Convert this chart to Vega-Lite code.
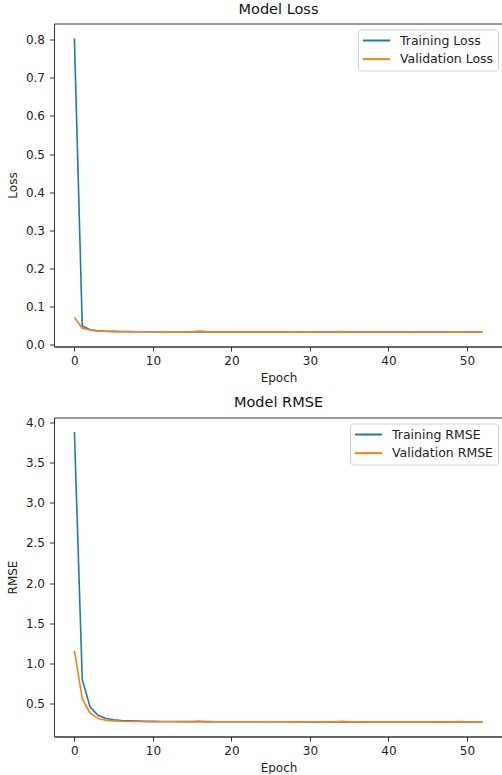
{
  "$schema": "https://vega.github.io/schema/vega-lite/v6.json",
  "background": "white",
  "padding": {"left": 5, "top": 1.5, "right": 0, "bottom": 0},
  "spacing": 10,
  "config": {
    "font": "DejaVu Sans",
    "view": {"stroke": "#333333", "strokeWidth": 1},
    "axis": {
      "grid": false,
      "domainColor": "#333333",
      "tickColor": "#333333",
      "tickSize": 4.5,
      "labelFontSize": 12,
      "labelColor": "#222222",
      "labelFont": "DejaVu Sans",
      "titleFont": "DejaVu Sans",
      "titleFontSize": 12,
      "titleFontWeight": "normal",
      "titleColor": "#222222",
      "labelPadding": 4
    },
    "axisX": {"titlePadding": 6},
    "axisY": {"titlePadding": 6, "labelPadding": 5},
    "title": {"font": "DejaVu Sans", "fontSize": 14.5, "fontWeight": "normal", "color": "#111111", "offset": 6},
    "legend": {
      "orient": "top-right",
      "offset": 5.5,
      "title": null,
      "symbolType": "M-2.25,0H2.25",
      "symbolSize": 144,
      "symbolOffset": 7.5,
      "symbolStrokeWidth": 2,
      "labelFontSize": 12.5,
      "labelFont": "DejaVu Sans",
      "labelColor": "#222222",
      "padding": 4,
      "rowPadding": 4.6,
      "labelOffset": 16.5,
      "strokeColor": "#d0d0d0",
      "fillColor": "white",
      "cornerRadius": 3
    }
  },
  "datasets": {
    "loss": [
      {"epoch": 0, "Training Loss": 0.803, "Validation Loss": 0.072},
      {"epoch": 1, "Training Loss": 0.050, "Validation Loss": 0.044},
      {"epoch": 2, "Training Loss": 0.040, "Validation Loss": 0.039},
      {"epoch": 3, "Training Loss": 0.037, "Validation Loss": 0.0365},
      {"epoch": 4, "Training Loss": 0.036, "Validation Loss": 0.0355},
      {"epoch": 5, "Training Loss": 0.0355, "Validation Loss": 0.035},
      {"epoch": 6, "Training Loss": 0.0352, "Validation Loss": 0.0348},
      {"epoch": 7, "Training Loss": 0.035, "Validation Loss": 0.0347},
      {"epoch": 8, "Training Loss": 0.0348, "Validation Loss": 0.0346},
      {"epoch": 9, "Training Loss": 0.0347, "Validation Loss": 0.0345},
      {"epoch": 10, "Training Loss": 0.0346, "Validation Loss": 0.0345},
      {"epoch": 11, "Training Loss": 0.0345, "Validation Loss": 0.0344},
      {"epoch": 12, "Training Loss": 0.0345, "Validation Loss": 0.0344},
      {"epoch": 13, "Training Loss": 0.0344, "Validation Loss": 0.0344},
      {"epoch": 14, "Training Loss": 0.0344, "Validation Loss": 0.0343},
      {"epoch": 15, "Training Loss": 0.0344, "Validation Loss": 0.0346},
      {"epoch": 16, "Training Loss": 0.0343, "Validation Loss": 0.0362},
      {"epoch": 17, "Training Loss": 0.0343, "Validation Loss": 0.0347},
      {"epoch": 18, "Training Loss": 0.0343, "Validation Loss": 0.0344},
      {"epoch": 19, "Training Loss": 0.0342, "Validation Loss": 0.0343},
      {"epoch": 20, "Training Loss": 0.0342, "Validation Loss": 0.0344},
      {"epoch": 21, "Training Loss": 0.0342, "Validation Loss": 0.0343},
      {"epoch": 22, "Training Loss": 0.0342, "Validation Loss": 0.0342},
      {"epoch": 23, "Training Loss": 0.0341, "Validation Loss": 0.0343},
      {"epoch": 24, "Training Loss": 0.0341, "Validation Loss": 0.0342},
      {"epoch": 25, "Training Loss": 0.0341, "Validation Loss": 0.0342},
      {"epoch": 26, "Training Loss": 0.0341, "Validation Loss": 0.0343},
      {"epoch": 27, "Training Loss": 0.0341, "Validation Loss": 0.0342},
      {"epoch": 28, "Training Loss": 0.0341, "Validation Loss": 0.0342},
      {"epoch": 29, "Training Loss": 0.0341, "Validation Loss": 0.0341},
      {"epoch": 30, "Training Loss": 0.0341, "Validation Loss": 0.0342},
      {"epoch": 31, "Training Loss": 0.0341, "Validation Loss": 0.0342},
      {"epoch": 32, "Training Loss": 0.0340, "Validation Loss": 0.0341},
      {"epoch": 33, "Training Loss": 0.0340, "Validation Loss": 0.0343},
      {"epoch": 34, "Training Loss": 0.0340, "Validation Loss": 0.0350},
      {"epoch": 35, "Training Loss": 0.0340, "Validation Loss": 0.0343},
      {"epoch": 36, "Training Loss": 0.0340, "Validation Loss": 0.0341},
      {"epoch": 37, "Training Loss": 0.0340, "Validation Loss": 0.0341},
      {"epoch": 38, "Training Loss": 0.0340, "Validation Loss": 0.0342},
      {"epoch": 39, "Training Loss": 0.0340, "Validation Loss": 0.0341},
      {"epoch": 40, "Training Loss": 0.0340, "Validation Loss": 0.0341},
      {"epoch": 41, "Training Loss": 0.0340, "Validation Loss": 0.0341},
      {"epoch": 42, "Training Loss": 0.0340, "Validation Loss": 0.0342},
      {"epoch": 43, "Training Loss": 0.0340, "Validation Loss": 0.0341},
      {"epoch": 44, "Training Loss": 0.0340, "Validation Loss": 0.0341},
      {"epoch": 45, "Training Loss": 0.0340, "Validation Loss": 0.0341},
      {"epoch": 46, "Training Loss": 0.0339, "Validation Loss": 0.0341},
      {"epoch": 47, "Training Loss": 0.0339, "Validation Loss": 0.0341},
      {"epoch": 48, "Training Loss": 0.0339, "Validation Loss": 0.0342},
      {"epoch": 49, "Training Loss": 0.0339, "Validation Loss": 0.0344},
      {"epoch": 50, "Training Loss": 0.0339, "Validation Loss": 0.0341},
      {"epoch": 51, "Training Loss": 0.0339, "Validation Loss": 0.0341},
      {"epoch": 52, "Training Loss": 0.0339, "Validation Loss": 0.0340}
    ],
    "rmse": [
      {"epoch": 0, "Training RMSE": 3.88, "Validation RMSE": 1.16},
      {"epoch": 1, "Training RMSE": 0.80, "Validation RMSE": 0.56},
      {"epoch": 2, "Training RMSE": 0.455, "Validation RMSE": 0.38},
      {"epoch": 3, "Training RMSE": 0.355, "Validation RMSE": 0.315},
      {"epoch": 4, "Training RMSE": 0.315, "Validation RMSE": 0.293},
      {"epoch": 5, "Training RMSE": 0.298, "Validation RMSE": 0.284},
      {"epoch": 6, "Training RMSE": 0.289, "Validation RMSE": 0.279},
      {"epoch": 7, "Training RMSE": 0.284, "Validation RMSE": 0.277},
      {"epoch": 8, "Training RMSE": 0.281, "Validation RMSE": 0.276},
      {"epoch": 9, "Training RMSE": 0.279, "Validation RMSE": 0.274},
      {"epoch": 10, "Training RMSE": 0.278, "Validation RMSE": 0.274},
      {"epoch": 11, "Training RMSE": 0.277, "Validation RMSE": 0.274},
      {"epoch": 12, "Training RMSE": 0.276, "Validation RMSE": 0.274},
      {"epoch": 13, "Training RMSE": 0.276, "Validation RMSE": 0.273},
      {"epoch": 14, "Training RMSE": 0.275, "Validation RMSE": 0.273},
      {"epoch": 15, "Training RMSE": 0.275, "Validation RMSE": 0.274},
      {"epoch": 16, "Training RMSE": 0.275, "Validation RMSE": 0.279},
      {"epoch": 17, "Training RMSE": 0.274, "Validation RMSE": 0.275},
      {"epoch": 18, "Training RMSE": 0.274, "Validation RMSE": 0.273},
      {"epoch": 19, "Training RMSE": 0.274, "Validation RMSE": 0.273},
      {"epoch": 20, "Training RMSE": 0.274, "Validation RMSE": 0.274},
      {"epoch": 21, "Training RMSE": 0.273, "Validation RMSE": 0.273},
      {"epoch": 22, "Training RMSE": 0.273, "Validation RMSE": 0.273},
      {"epoch": 23, "Training RMSE": 0.273, "Validation RMSE": 0.273},
      {"epoch": 24, "Training RMSE": 0.273, "Validation RMSE": 0.272},
      {"epoch": 25, "Training RMSE": 0.273, "Validation RMSE": 0.273},
      {"epoch": 26, "Training RMSE": 0.273, "Validation RMSE": 0.273},
      {"epoch": 27, "Training RMSE": 0.273, "Validation RMSE": 0.272},
      {"epoch": 28, "Training RMSE": 0.273, "Validation RMSE": 0.272},
      {"epoch": 29, "Training RMSE": 0.272, "Validation RMSE": 0.272},
      {"epoch": 30, "Training RMSE": 0.272, "Validation RMSE": 0.273},
      {"epoch": 31, "Training RMSE": 0.272, "Validation RMSE": 0.272},
      {"epoch": 32, "Training RMSE": 0.272, "Validation RMSE": 0.272},
      {"epoch": 33, "Training RMSE": 0.272, "Validation RMSE": 0.274},
      {"epoch": 34, "Training RMSE": 0.272, "Validation RMSE": 0.278},
      {"epoch": 35, "Training RMSE": 0.272, "Validation RMSE": 0.274},
      {"epoch": 36, "Training RMSE": 0.272, "Validation RMSE": 0.272},
      {"epoch": 37, "Training RMSE": 0.272, "Validation RMSE": 0.272},
      {"epoch": 38, "Training RMSE": 0.272, "Validation RMSE": 0.272},
      {"epoch": 39, "Training RMSE": 0.272, "Validation RMSE": 0.272},
      {"epoch": 40, "Training RMSE": 0.272, "Validation RMSE": 0.272},
      {"epoch": 41, "Training RMSE": 0.272, "Validation RMSE": 0.272},
      {"epoch": 42, "Training RMSE": 0.272, "Validation RMSE": 0.272},
      {"epoch": 43, "Training RMSE": 0.271, "Validation RMSE": 0.272},
      {"epoch": 44, "Training RMSE": 0.271, "Validation RMSE": 0.272},
      {"epoch": 45, "Training RMSE": 0.271, "Validation RMSE": 0.272},
      {"epoch": 46, "Training RMSE": 0.271, "Validation RMSE": 0.272},
      {"epoch": 47, "Training RMSE": 0.271, "Validation RMSE": 0.272},
      {"epoch": 48, "Training RMSE": 0.271, "Validation RMSE": 0.273},
      {"epoch": 49, "Training RMSE": 0.271, "Validation RMSE": 0.275},
      {"epoch": 50, "Training RMSE": 0.271, "Validation RMSE": 0.272},
      {"epoch": 51, "Training RMSE": 0.271, "Validation RMSE": 0.271},
      {"epoch": 52, "Training RMSE": 0.271, "Validation RMSE": 0.271}
    ]
  },
  "resolve": {"scale": {"color": "independent"}},
  "vconcat": [
    {
      "title": "Model Loss",
      "width": 449,
      "height": 323,
      "data": {"name": "loss"},
      "transform": [{"fold": ["Training Loss", "Validation Loss"], "as": ["series", "value"]}],
      "mark": {"type": "line", "strokeWidth": 1.6, "clip": true},
      "encoding": {
        "x": {"field": "epoch", "type": "quantitative", "title": "Epoch",
              "scale": {"domain": [-2.6, 54.6], "nice": false, "zero": false},
              "axis": {"values": [0, 10, 20, 30, 40, 50], "format": "d"}},
        "y": {"field": "value", "type": "quantitative", "title": "Loss",
              "scale": {"domain": [-0.004, 0.842], "nice": false, "zero": false},
              "axis": {"values": [0, 0.1, 0.2, 0.3, 0.4, 0.5, 0.6, 0.7, 0.8], "format": ".1f"}},
        "color": {"field": "series", "type": "nominal",
                  "scale": {"domain": ["Training Loss", "Validation Loss"], "range": ["#1f77b4", "#ff7f0e"]},
                  "legend": {"title": null}}
      }
    },
    {
      "title": "Model RMSE",
      "width": 449,
      "height": 319,
      "data": {"name": "rmse"},
      "transform": [{"fold": ["Training RMSE", "Validation RMSE"], "as": ["series", "value"]}],
      "mark": {"type": "line", "strokeWidth": 1.6, "clip": true},
      "encoding": {
        "x": {"field": "epoch", "type": "quantitative", "title": "Epoch",
              "scale": {"domain": [-2.6, 54.6], "nice": false, "zero": false},
              "axis": {"values": [0, 10, 20, 30, 40, 50], "format": "d"}},
        "y": {"field": "value", "type": "quantitative", "title": "RMSE",
              "scale": {"domain": [0.09, 4.06], "nice": false, "zero": false},
              "axis": {"values": [0.5, 1.0, 1.5, 2.0, 2.5, 3.0, 3.5, 4.0], "format": ".1f"}},
        "color": {"field": "series", "type": "nominal",
                  "scale": {"domain": ["Training RMSE", "Validation RMSE"], "range": ["#1f77b4", "#ff7f0e"]},
                  "legend": {"title": null}}
      }
    }
  ]
}
